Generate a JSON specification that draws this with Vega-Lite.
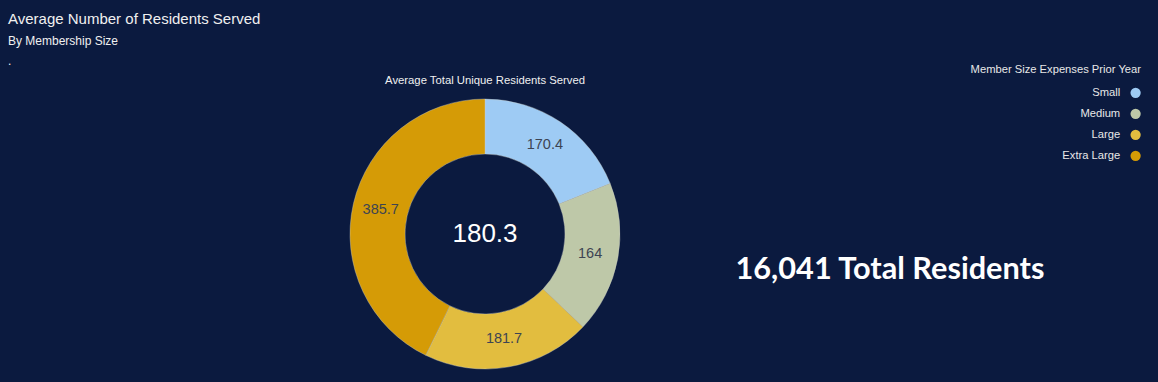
{
  "$schema": "https://vega.github.io/schema/vega-lite/v6.json",
  "background": "#0b1a3f",
  "padding": {"left": 8, "top": 12, "right": 1, "bottom": 13},
  "spacing": 0,
  "config": {
    "view": {"stroke": null},
    "font": "Liberation Sans",
    "concat": {"spacing": 0}
  },
  "datasets": {
    "slices": [
      {"size": "Small", "value": 170.4, "rank": 1},
      {"size": "Medium", "value": 164, "rank": 2},
      {"size": "Large", "value": 181.7, "rank": 3},
      {"size": "Extra Large", "value": 385.7, "rank": 4}
    ],
    "center": [{"avg": 180.3}],
    "total": [{"label": "16,041 Total Residents"}],
    "blank": [{"t": ""}]
  },
  "hconcat": [
    {
      "width": 341,
      "height": 270,
      "title": {
        "text": "Average Number of Residents Served",
        "subtitle": ["By Membership Size", "."],
        "anchor": "start",
        "frame": "group",
        "fontSize": 15,
        "fontWeight": "normal",
        "color": "#f0f0f0",
        "subtitleFontSize": 12,
        "subtitleColor": "#f0f0f0",
        "subtitlePadding": 9,
        "subtitleLineHeight": 20,
        "offset": 32
      },
      "data": {"name": "blank"},
      "mark": {"type": "text"},
      "encoding": {"text": {"field": "t"}}
    },
    {
      "width": 270,
      "height": 270,
      "title": {
        "text": "Average Total Unique Residents Served",
        "anchor": "middle",
        "fontSize": 11.3,
        "fontWeight": "normal",
        "color": "#f0f0f0",
        "offset": 12
      },
      "layer": [
        {
          "data": {"name": "slices"},
          "mark": {"type": "arc", "innerRadius": 80, "outerRadius": 135, "stroke": "#c9ccc4", "strokeWidth": 0.4},
          "encoding": {
            "theta": {"field": "value", "type": "quantitative", "stack": true},
            "order": {"field": "rank", "type": "quantitative"},
            "color": {
              "field": "size",
              "type": "nominal",
              "sort": ["Small", "Medium", "Large", "Extra Large"],
              "scale": {
                "domain": ["Small", "Medium", "Large", "Extra Large"],
                "range": ["#9ecbf4", "#bec8a8", "#e2bd3f", "#d59b06"]
              },
              "legend": {
                "orient": "none",
                "legendX": 962,
                "legendY": -35,
                "title": "Member Size Expenses Prior Year",
                "titleFontSize": 11.2,
                "titleFontWeight": "normal",
                "titleColor": "#e8e8e8",
                "titleAnchor": "end",
                "titleAlign": "right",
                "titlePadding": 12,
                "labelFontSize": 11.2,
                "labelColor": "#e8e8e8",
                "labelAlign": "right",
                "labelOffset": -21,
                "symbolType": "circle",
                "symbolSize": 105,
                "symbolStrokeWidth": 0,
                "rowPadding": 9
              }
            }
          }
        },
        {
          "data": {"name": "slices"},
          "mark": {"type": "text", "radius": 107, "fontSize": 14.5, "color": "#3d4452"},
          "encoding": {
            "theta": {"field": "value", "type": "quantitative", "stack": true},
            "order": {"field": "rank", "type": "quantitative"},
            "text": {"field": "value", "type": "quantitative"}
          }
        },
        {
          "data": {"name": "center"},
          "mark": {"type": "text", "fontSize": 26, "color": "#ffffff"},
          "encoding": {
            "text": {"field": "avg", "type": "quantitative", "format": ".1f"}
          }
        }
      ]
    },
    {
      "width": 538,
      "height": 270,
      "data": {"name": "total"},
      "mark": {"type": "text", "font": "Lato", "fontWeight": "bold", "fontSize": 30.7, "color": "#ffffff", "dy": 36},
      "encoding": {"text": {"field": "label"}}
    }
  ]
}
